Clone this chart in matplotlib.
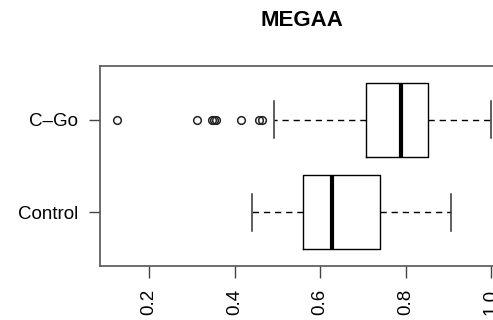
import matplotlib
matplotlib.use("Agg")
import matplotlib.pyplot as plt

plt.rcParams['font.family'] = ['Liberation Sans', 'DejaVu Sans']

groups = ["Control", "C\u2013Go"]
q1 = [0.560, 0.708]
medians = [0.628, 0.790]
q3 = [0.740, 0.853]
whis_lo = [0.440, 0.491]
whis_hi = [0.906, 1.000]
fliers = [[], [0.124, 0.313, 0.348, 0.352, 0.357, 0.414, 0.457, 0.464]]
title = "MEGAA"
xticks = [0.2, 0.4, 0.6, 0.8, 1.0]

W, H = 493, 320
fig = plt.figure(figsize=(W / 100, H / 100), dpi=100)
ax = fig.add_axes([100 / W, 54 / H, 406 / W, 200 / H])

stats = []
for i, g in enumerate(groups):
    stats.append(dict(label=g, q1=q1[i], med=medians[i], q3=q3[i],
                      whislo=whis_lo[i], whishi=whis_hi[i], fliers=fliers[i]))

positions = list(range(1, len(groups) + 1))
ax.bxp(stats, positions=positions, widths=0.8, vert=False, showfliers=True,
       boxprops=dict(color='black', linewidth=1.0),
       medianprops=dict(color='black', linewidth=3.0, solid_capstyle='butt'),
       whiskerprops=dict(color='black', linewidth=1.0, linestyle=(0, (4.5, 3.5))),
       capprops=dict(color='#333333', linewidth=1.1),
       capwidths=0.4,
       flierprops=dict(marker='o', markerfacecolor='none', markeredgecolor='#222222',
                       markersize=5.5, markeredgewidth=1.1, linestyle='none'))

ax.set_xlim(0.085, 1.035)
ax.set_ylim(0.42, 2.58)
ax.set_xticks(xticks)
ax.set_xticklabels([f"{t:.1f}" for t in xticks], rotation=90, fontsize=13.5)
ax.set_yticks(positions)
ax.set_yticklabels(groups, fontsize=13.5)
ax.tick_params(axis='x', length=8.4, width=1.0, pad=8, color='#444444')
ax.tick_params(axis='y', length=8, width=1.0, pad=8, color='#444444')
for s in ax.spines.values():
    s.set_linewidth(1.2)
    s.set_color('#555555')

fig.text(302 / W, 1 - 21 / H, title, ha='center', va='center', fontsize=16, fontweight='bold')

fig.savefig("out.png", dpi=100)
